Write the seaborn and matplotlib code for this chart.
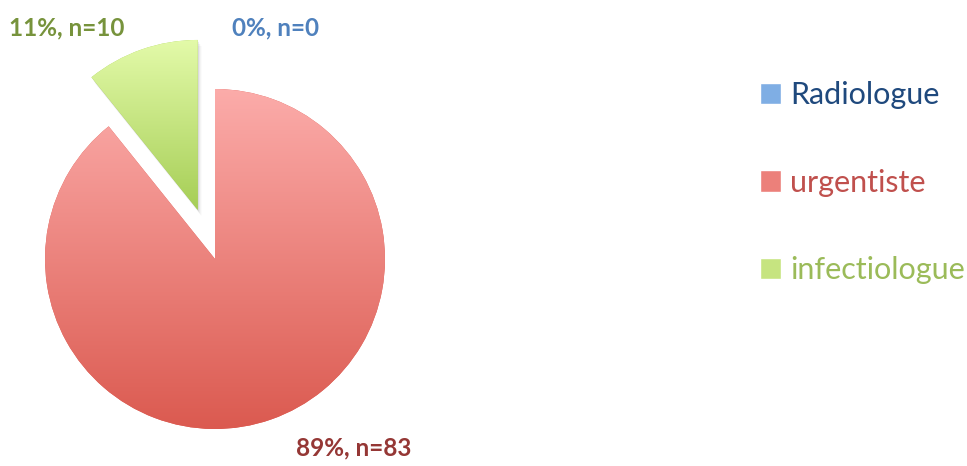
import numpy as np
import matplotlib
matplotlib.use("Agg")
import matplotlib.pyplot as plt
from matplotlib.colors import LinearSegmentedColormap
from matplotlib.patches import Patch, Wedge
import seaborn as sns

# data
categories = ["Radiologue", "urgentiste", "infectiologue"]
counts = [0, 83, 10]
value_labels = ["0%, n=0", "89%, n=83", "11%, n=10"]

# colours (gradient top -> bottom), legend text, value labels
top_colors = ["#A9CCF6", "#FCACAA", "#E3FAA9"]
bottom_colors = ["#5A92D2", "#DB5A50", "#A6CE56"]
text_colors = ["#1F497D", "#C0504D", "#9BBB59"]
label_colors = ["#4F81BD", "#953735", "#77933C"]

sns.set_style("white")
plt.rcParams['font.family'] = ['Lato', 'DejaVu Sans']

fig = plt.figure(figsize=(9.67, 4.66), dpi=100)
ax = fig.add_axes([0, 0, 1, 1])

center = (215, 207)
radius = 170
explode = [0, 0, 52]

wedges, _ = ax.pie(counts, startangle=90, counterclock=False, explode=explode,
                   center=center, radius=radius, frame=True,
                   colors=bottom_colors)

# soft shadow under the exploded slice
w = wedges[2]
for k, a in zip([2, 4, 6], [0.12, 0.08, 0.05]):
    sh = Wedge((w.center[0] + k * 0.6, w.center[1] - k), w.r, w.theta1, w.theta2,
               facecolor="#606060", edgecolor="none", alpha=a, zorder=0.5)
    ax.add_patch(sh)

# vertical gradient fill clipped to each wedge
grad = np.linspace(0, 1, 256).reshape(-1, 1)
for wd, c0, c1, n in zip(wedges, bottom_colors, top_colors, counts):
    if n == 0:
        continue
    wd.set_edgecolor("none")
    verts = wd.get_path().vertices
    x0, y0 = verts.min(axis=0)
    x1, y1 = verts.max(axis=0)
    cmap = LinearSegmentedColormap.from_list("g", [c0, c1])
    im = ax.imshow(grad, cmap=cmap, origin="lower", extent=(x0, x1, y0, y1),
                   aspect="auto", zorder=2)
    im.set_clip_path(wd)

ax.set_xlim(0, 967)
ax.set_ylim(0, 466)
ax.set_aspect("equal")
ax.axis("off")

# value labels
label_pos = [(276, 438), (354, 18), (67, 438)]
for txt, col, (x, y) in zip(value_labels, label_colors, label_pos):
    ax.text(x, y, txt, color=col, fontsize=17.5, fontweight="bold",
            ha="center", va="center")

handles = [Patch(facecolor=c) for c in ["#7FAEE4", "#EC807A", "#C6E480"]]
ax.legend(handles, categories, loc="upper left", bbox_to_anchor=(0.757, 0.885),
          bbox_transform=fig.transFigure, frameon=False, fontsize=22,
          handlelength=0.7, handleheight=0.7, handletextpad=0.3,
          labelspacing=1.95, labelcolor=text_colors)

fig.savefig("out.png", dpi=100)
